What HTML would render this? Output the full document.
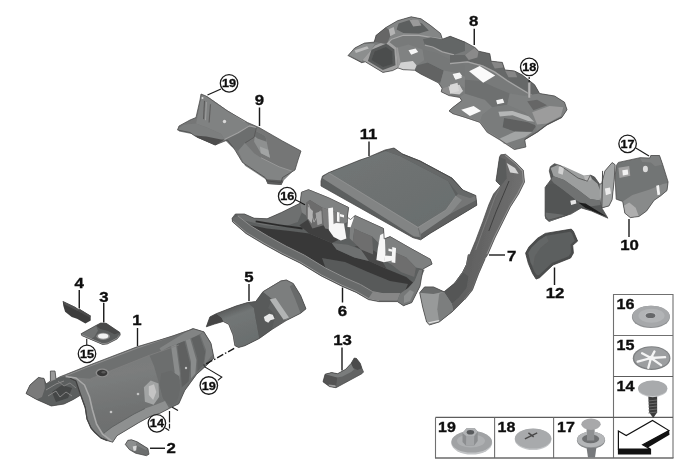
<!DOCTYPE html>
<html><head><meta charset="utf-8"><title>Heat insulation</title>
<style>
html,body{margin:0;padding:0;background:#fff;}
svg{display:block}
.lb{font-family:"Liberation Sans",sans-serif;font-weight:bold;fill:#111;stroke:#111;stroke-width:1.4px}
</style></head><body>
<svg width="680" height="462" viewBox="0 0 680 462">
<defs>
<filter id="soft" x="-5%" y="-5%" width="110%" height="110%"><feGaussianBlur stdDeviation="0.6"/></filter>
<filter id="soft2" x="-5%" y="-5%" width="110%" height="110%"><feGaussianBlur stdDeviation="0.4"/></filter>
<filter id="soft3" x="-5%" y="-5%" width="110%" height="110%"><feGaussianBlur stdDeviation="0.3"/></filter>
<linearGradient id="g1" x1="0" y1="0" x2="0.3" y2="1"><stop offset="0" stop-color="#737575"/><stop offset="0.5" stop-color="#7b7d7d"/><stop offset="0.8" stop-color="#707272"/><stop offset="1" stop-color="#6c6e6e"/></linearGradient>
<linearGradient id="g1b" x1="0" y1="0" x2="1" y2="0.4"><stop offset="0" stop-color="#727272"/><stop offset="0.25" stop-color="#626262"/><stop offset="0.45" stop-color="#808080"/><stop offset="0.6" stop-color="#606060"/><stop offset="0.8" stop-color="#7a7a7a"/><stop offset="1" stop-color="#6a6a6a"/></linearGradient>
<linearGradient id="g5a" x1="0" y1="0" x2="0.35" y2="1"><stop offset="0" stop-color="#525454"/><stop offset="0.22" stop-color="#5c5e5e"/><stop offset="0.4" stop-color="#727676"/><stop offset="1" stop-color="#6a6e6e"/></linearGradient>
<linearGradient id="g7" x1="0" y1="0" x2="1" y2="0.3"><stop offset="0" stop-color="#4e4e4e"/><stop offset="0.6" stop-color="#606060"/><stop offset="1" stop-color="#727272"/></linearGradient>
<linearGradient id="g8" x1="0" y1="0" x2="1" y2="1"><stop offset="0" stop-color="#727272"/><stop offset="0.5" stop-color="#686868"/><stop offset="1" stop-color="#767676"/></linearGradient>
<linearGradient id="g9" x1="0" y1="0" x2="1" y2="1"><stop offset="0" stop-color="#808080"/><stop offset="1" stop-color="#6c6c6c"/></linearGradient>
<linearGradient id="g11" x1="0" y1="0" x2="1" y2="1"><stop offset="0" stop-color="#727676"/><stop offset="1" stop-color="#696d6d"/></linearGradient>
<linearGradient id="gw" x1="0" y1="0" x2="0" y2="1"><stop offset="0" stop-color="#b4b6b8"/><stop offset="1" stop-color="#96989a"/></linearGradient>
</defs>
<rect width="680" height="462" fill="#fff"/>

<g filter="url(#soft)">
<polygon points="347.9,55.8 354.7,48.0 364.5,43.1 374.2,42.1 376.2,35.3 385.9,27.5 397.6,20.7 411.2,16.8 421.0,18.8 430.7,25.6 440.5,33.4 442.4,39.2 450.2,36.3 465.0,42.1 474.9,47.5 478.6,51.2 489.8,53.7 491.1,61.2 502.3,62.4 504.8,69.9 514.7,71.1 522.2,74.9 534.6,84.8 539.6,93.5 554.6,96.0 564.5,102.2 567.0,109.7 562.0,117.2 547.1,124.6 537.1,132.1 524.7,139.6 525.9,147.0 514.7,149.5 507.3,144.6 499.8,139.6 487.3,132.1 479.9,122.2 464.9,117.2 452.5,113.4 449.0,110.9 452.6,107.6 461.8,100.6 459.7,97.4 449.1,95.6 441.2,91.8 442.1,88.2 438.5,82.9 420.9,74.1 414.7,70.2 403.2,69.7 397.9,67.9 392.6,70.6 382.9,72.4 365.3,61.8 361.8,62.7 348.5,55.8" fill="#787a7a" />
<polygon points="348.5,54.7 355.6,48.5 361.8,44.1 375.0,43.8 371.5,49.4 362.6,60.0 361.8,62.6" fill="#8c8e8e" />
<polygon points="354.7,50.3 367.1,46.2 368.8,48.4 355.9,52.9" fill="#bcbcbc" />
<polygon points="348.5,55.1 361.8,61.8 362.6,60.4 361.8,62.8" fill="#6a6a6a" />
<polygon points="362.6,60.0 371.5,49.4 375.0,45.5 387.4,40.6 396.2,47.6 397.9,67.9 392.6,70.6 382.9,72.4 365.3,61.8" fill="#a2a2a2" />
<polygon points="367.9,60.9 371.5,49.8 386.5,43.4 394.4,49.4 395.5,65.3 382.9,69.9" fill="#585a5a" />
<polygon points="371.5,60.0 374.6,51.5 385.9,46.9 392.3,51.5 392.6,63.9 383.1,67.1" fill="#4c4e4e" />
<polygon points="376.2,35.3 385.9,27.5 397.6,20.7 411.2,16.8 421.0,18.8 430.7,25.6 440.5,33.4 442.4,39.2 430.7,37.3 419.0,35.3 403.4,35.3 391.8,39.2 386.9,44.1 374.2,42.1" fill="#848686" />
<polygon points="398.6,23.6 411.2,19.4 422.0,23.6 428.8,30.5 419.0,33.4 403.4,33.0 396.6,29.5" fill="#5c5e5e" />
<polygon points="388.2,29.5 393.7,27.1 395.3,33.4 390.2,36.3" fill="#b4b4b4" />
<polygon points="409.3,19.7 418.1,19.7 421.4,25.6 413.2,26.6" fill="#9a9a9a" />
<polygon points="376.2,35.3 385.9,27.5 388.8,29.5 390.2,36.3 386.9,44.1 374.2,42.1" fill="#666" />
<polyline points="386.9,44.1 391.8,39.2 403.4,35.3 419.0,35.3 430.7,37.3 442.4,39.2" fill="none" stroke="#a8a8a8" stroke-width="1.2" stroke-linejoin="round" />
<polygon points="397.9,47.6 408.5,44.5 422.6,49.4 424.4,60.0 416.5,65.3 412.9,60.9 400.6,62.6" fill="#808282" />
<polygon points="400.6,62.6 412.9,60.9 416.5,65.3 414.7,70.2 403.2,69.7 397.9,67.9" fill="#d2d2d2" />
<polygon points="396.2,47.6 397.9,47.6 400.6,62.6 397.9,67.9" fill="#9a9a9a" />
<polygon points="417.3,65.3 427.9,62.6 443.8,70.6 440.3,82.9 420.9,74.1 414.7,70.2" fill="#626464" />
<polygon points="422.9,39.2 430.7,37.3 442.4,39.2 450.2,36.3 465.0,42.1 465.0,50.9 454.1,54.8 442.4,51.9 432.7,47.0 424.9,45.1" fill="#646666" />
<polyline points="424.9,45.1 432.7,47.0 442.4,51.9 454.1,54.8" fill="none" stroke="#a2a2a2" stroke-width="1.2" stroke-linejoin="round" />
<polygon points="422.6,49.4 436.8,52.9 450.9,60.0 465.0,65.3 465.0,75.9 454.4,72.4 443.8,70.6 427.9,62.6 424.4,60.0" fill="#767878" />
<polygon points="443.8,70.6 454.4,72.4 465.0,76.8 465.0,88.2 459.7,84.7 448.2,86.5 442.1,88.2 438.5,82.9 440.3,82.9" fill="#808282" />
<polygon points="448.2,86.5 459.7,84.7 463.2,90.9 459.7,94.4 450.0,93.5" fill="#cecece" />
<polygon points="442.1,88.2 448.2,86.5 450.0,93.5 449.1,95.6 441.2,91.8" fill="#8e8e8e" />
<polygon points="459.7,84.7 465.0,88.2 465.0,104.1 461.8,100.6 459.7,97.4 459.7,94.4 463.2,90.9" fill="#7a7c7c" />
<polygon points="450.0,54.9 464.9,54.9 474.9,47.5 478.6,51.2 489.8,53.7 491.1,61.2 502.3,62.4 504.8,69.9 514.7,71.1 522.2,74.9 534.6,84.8 539.6,93.5 532.2,94.8 519.7,87.3 507.3,79.8 494.8,71.1 482.4,64.9 467.4,61.2 450.0,62.4" fill="#666868" />
<polyline points="450.0,63.6 467.4,61.9 482.4,65.9 494.8,72.1 507.3,80.8 519.7,88.3 532.2,95.8 549.6,99.7" fill="none" stroke="#a6a6a6" stroke-width="1.3" stroke-linejoin="round" />
<polygon points="464.9,54.9 474.9,47.5 478.6,51.2 477.4,57.4 468.7,59.9" fill="#8a8a8a" />
<polygon points="491.1,61.2 502.3,62.4 503.5,67.4 494.8,68.6" fill="#868686" />
<polygon points="504.8,69.9 514.7,71.1 517.2,77.3 508.5,77.3" fill="#868686" />
<polygon points="450.0,84.8 457.5,82.8 459.0,91.0 450.0,93.5" fill="#d8d8d8" />
<polygon points="464.9,93.5 484.9,99.7 492.3,107.2 482.4,114.7 479.9,122.2 464.9,117.2 452.5,113.4 449.0,110.9 452.6,107.6 461.8,100.6 459.7,97.4" fill="#808282" />
<polygon points="464.9,79.8 481.1,81.1 494.8,87.3 509.7,93.5 507.3,104.7 492.3,107.2 484.9,99.7 464.9,93.5" fill="#6e7070" />
<polygon points="492.3,107.2 507.3,104.7 524.7,112.2 534.6,122.2 524.7,139.6 514.7,149.5 507.3,144.6 499.8,139.6 487.3,132.1 479.9,122.2 482.4,114.7" fill="#7a7c7c" />
<polygon points="504.1,118 528,122.3 536.4,125.8 532.2,131.4 518.1,132.8 502.7,127.2" fill="#5e6060" />
<polygon points="498.4,111.7 512.5,111 529.4,116.6 540.6,118 539.2,122.3 528,120.9 512.5,115.2 499.8,116.6" fill="#b4b6b6" />
<polygon points="499.8,138.4 515.3,131.4 532.2,132.1 525.2,137 512.5,141.3 504.1,144.1" fill="#a2a4a4" />
<polygon points="509.7,93.5 524.7,96.0 539.6,93.5 554.6,96.0 564.5,102.2 567.0,109.7 562.0,117.2 547.1,124.6 537.1,132.1 534.6,122.2 524.7,112.2 507.3,104.7" fill="#7e8080" />
<polygon points="532.2,112.2 549.6,106.0 563.3,107.2 560.8,115.9 547.1,123.4 537.1,124.6" fill="#9c9c9c" />
<polygon points="527.2,101.2 537.1,99.7 547.1,105.2 533.4,110.2" fill="#666666" />
<polyline points="452.5,113.4 464.9,117.2 479.9,122.2 487.3,132.1 499.8,139.6 507.3,144.6 514.7,149.5" fill="none" stroke="#a0a0a0" stroke-width="1.3" stroke-linejoin="round" />
<polyline points="524.7,139.6 537.1,132.1 547.1,124.6 562.0,117.2" fill="none" stroke="#666666" stroke-width="1.2" stroke-linejoin="round" />
<polygon points="408.5,50.3 415.6,48.5 418.2,52.1 411.2,54.7" fill="#f6f6f6" />
<polygon points="452.6,74.1 459.7,72.4 462.3,76.2 455.3,79.1" fill="#f6f6f6" />
<polygon points="469.1,71.2 479.7,65.9 495.2,75.6 483.2,82.7" fill="#fafafa" />
<polygon points="453.7,76.1 460.0,74.4 461.9,77.8 455.5,79.8" fill="#f4f4f4" />
<polygon points="496.1,100.2 502.8,98.8 504.3,102.7 497.3,104.2" fill="#f4f4f4" />
<polygon points="461.2,109.7 473.6,106.0 481.1,110.9 469.9,115.9" fill="#fafafa" />
<polygon points="347.9,55.8 354.7,48.0 364.5,43.1 374.2,42.1 376.2,35.3 385.9,27.5 397.6,20.7 411.2,16.8 421.0,18.8 430.7,25.6 440.5,33.4 442.4,39.2 450.2,36.3 465.0,42.1 474.9,47.5 478.6,51.2 489.8,53.7 491.1,61.2 502.3,62.4 504.8,69.9 514.7,71.1 522.2,74.9 534.6,84.8 539.6,93.5 554.6,96.0 564.5,102.2 567.0,109.7 562.0,117.2 547.1,124.6 537.1,132.1 524.7,139.6 525.9,147.0 514.7,149.5 507.3,144.6 499.8,139.6 487.3,132.1 479.9,122.2 464.9,117.2 452.5,113.4 449.0,110.9 452.6,107.6 461.8,100.6 459.7,97.4 449.1,95.6 441.2,91.8 442.1,88.2 438.5,82.9 420.9,74.1 414.7,70.2 403.2,69.7 397.9,67.9 392.6,70.6 382.9,72.4 365.3,61.8 361.8,62.7 348.5,55.8" fill="none" stroke="#484848" stroke-width="0.75" stroke-linejoin="round"/>
<polygon points="201,94 206,96 227.5,111 247.5,122.5 259,127.5 282.5,141 301,151 298,160 295,170 282.5,177.5 281,182.5 267.5,181 265,177.5 242.5,162.5 235,150 227.5,140 215,145 195,136 190,132.5 177.5,130 179,126 190,120 196,117.5 200,100" fill="#747676" />
<polygon points="201.8,95.2 207.5,96.4 226.8,110.0 245.0,121.4 249.5,125.9 238.2,132.7 224.5,139.5 221.1,133.9 208.6,128.2 196.1,123.6 198.4,112.3" fill="#808282" />
<polyline points="204.5,100.9 203.6,119.1" fill="none" stroke="#5a5a5a" stroke-width="1.1" stroke-linejoin="round" />
<polyline points="210.5,104.3 209.1,122.5" fill="none" stroke="#5e5e5e" stroke-width="1.1" stroke-linejoin="round" />
<polyline points="206.4,102.0 205.5,120.2" fill="none" stroke="#a0a0a0" stroke-width="0.9" stroke-linejoin="round" />
<polygon points="178.0,129.3 183.6,124.8 196.1,123.6 208.6,128.2 221.1,133.9 224.5,139.5 215.5,145.2 197.3,137.3 191.6,133.9 179.1,131.6" fill="#7c7e7e" />
<polygon points="195.0,135.5 206.4,136.4 221.1,139.5 224.5,139.5 215.5,145.2 197.3,137.7" fill="#4e4e4e" />
<polygon points="224.5,139.5 238.2,132.7 249.5,125.9 256.4,127.0 254.1,137.3 245.0,143.0 238.2,150.9 231.4,146.4" fill="#6c6e6e" />
<polygon points="255.2,130.5 265.5,136.1 270.0,157.7 260.9,153.2 254.1,141.8" fill="#8e9090" />
<polygon points="255.2,130.5 265.5,136.1 266.6,141.8 257.5,138.4 254.5,136.1" fill="#6c6e6e" />
<polygon points="259.8,146.4 268.2,149.8 270.0,157.7 260.9,153.2" fill="#a2a4a4" />
<polygon points="238.2,150.9 245.0,143.0 254.1,153.2 260.9,157.7 279.1,166.8 292.7,171.4 283.6,180.5 281.4,185.0 267.7,183.9 265.5,179.3 245.0,165.7" fill="#828484" />
<polygon points="265.5,179.3 283.6,180.5 281.4,185.0 267.7,183.9" fill="#5c5c5c" />
<polyline points="224.5,139.5 238.2,132.7 249.5,125.9 256.4,127.5" fill="none" stroke="#a2a2a2" stroke-width="1.1" stroke-linejoin="round" />
<polyline points="207.5,96.8 226.8,110.5 245.0,121.8" fill="none" stroke="#9c9c9c" stroke-width="0.9" stroke-linejoin="round" />
<polyline points="260.9,157.7 279.1,166.8 292.7,171.4" fill="none" stroke="#9a9a9a" stroke-width="0.9" stroke-linejoin="round" />
<polyline points="245.0,143.0 254.1,137.3 256.4,127.5" fill="none" stroke="#5a5a5a" stroke-width="1" stroke-linejoin="round" />
<circle cx="224.5" cy="121.5" r="1.7" fill="#d8d8d8"/><circle cx="202.5" cy="98" r="1" fill="#e0e0e0"/>
<polygon points="201,94 206,96 227.5,111 247.5,122.5 259,127.5 282.5,141 301,151 298,160 295,170 282.5,177.5 281,182.5 267.5,181 265,177.5 242.5,162.5 235,150 227.5,140 215,145 195,136 190,132.5 177.5,130 179,126 190,120 196,117.5 200,100" fill="none" stroke="#484848" stroke-width="0.75" stroke-linejoin="round"/>
<polygon points="321,181 322.5,176 329,172.5 360,160 367.5,157.5 385,150 394,148 402.5,154 420,161 451.9,178.1 462.8,190 475.8,195.5 476.8,205.2 430.3,233.3 420.6,239.8 413,237.7 321,186" fill="#5c5e5e" />
<polygon points="323,177 329,172.5 367.5,157.5 386,151 400,156 448,181 456,196 446,210 418,227" fill="url(#g11)" />
<polygon points="386,151 394,148 402.5,154 420,161 451.9,178.1 462.8,190 475.8,195.5 470,198 458,194 448,181 400,156" fill="#666868" />
<polygon points="456,196 458,194 470,198 475.8,195.5 476.8,205.2 430.3,233.3 420.6,239.8 419,231 428,222 446,210" fill="#747676" />
<polygon points="322,178 329,172.5 418,227 420,237 414,236.5" fill="#828484" />
<polygon points="418,227 446,210 456,196 462,200 450,214 421,234" fill="#868888" />
<polygon points="421,234 450,214 476.5,200 476.8,205.2 430.3,233.3 420.6,239.8" fill="#5e6060" />
<polyline points="329,173 418,227.5 446,210 456,196" fill="none" stroke="#909292" stroke-width="0.8" stroke-linejoin="round" />
<polyline points="402,154 420,161 451.9,178.1 462.8,190" fill="none" stroke="#4e5050" stroke-width="0.9" stroke-linejoin="round" />
<polygon points="321,181 322.5,176 329,172.5 360,160 367.5,157.5 385,150 394,148 402.5,154 420,161 451.9,178.1 462.8,190 475.8,195.5 476.8,205.2 430.3,233.3 420.6,239.8 413,237.7 321,186" fill="none" stroke="#484848" stroke-width="0.75" stroke-linejoin="round"/>
<polygon points="232.1,218.2 235.4,214.0 244.4,214.0 254.1,218.2 267.1,218.8 281.6,212.4 294.6,205.9 300.1,203.3 301.4,192.3 308.5,189.7 328.5,197.8 348.6,207.5 347.3,217.2 350.5,219.5 355.1,215.6 383.5,228.5 384.2,238.9 390.0,236.6 411.0,248.6 430.4,259.3 432.1,264.1 423.0,269.0 420,286.2 415.9,294.4 411.8,302.6 403.5,305.7 397.4,301.6 378.8,301.6 368.5,299.6 356.2,292.4 341.8,286.2 321.2,275.9 300,263 282,254.2 264,244.3 246,233.5 232.5,221.8" fill="#5c5e5e" />
<polygon points="235.4,214.0 244.4,214.0 254.1,218.2 267.1,218.8 281.6,212.4 294.6,205.9 300.1,203.3 302.6,210.7 297.8,222.1 283.2,226.9 263.8,225.3 244.4,220.4" fill="#6e7070" />
<polyline points="255.7,221.4 280.0,225.3 302.6,228.5" fill="none" stroke="#2c2c2c" stroke-width="1.8" stroke-linejoin="round" />
<polygon points="250.9,225.3 267,228.5 289.7,231.1 309.1,233.4 331.8,243.1 336.6,249.6 354.4,257.6 369,260.9 386.8,269 406.2,277 415.9,285.1 408,290 383,293.7 372.8,291.7 360.5,284.5 346.1,278.3 325.5,268 304.3,255.1 286.3,246.3 268.3,236.4 250.3,225.6" fill="#383838" />
<polygon points="331.8,243.1 347.9,244.7 360.9,249.6 369.0,260.9 354.4,257.6 336.6,249.6" fill="#6e7070" />
<polygon points="299.4,225.3 309.1,218.8 331.8,228.5 338.2,239.9 331.8,243.1 309.1,233.4" fill="#404040" />
<polygon points="354.4,246.3 364.1,244.7 377.1,252.8 386.8,269.0 369.0,260.9 360.9,249.6" fill="#484848" />
<polygon points="322,258 345,262 368,272 390,281 408,284 404,293 383,293.7 372.8,291.7 360.5,284.5 346.1,278.3 325.5,268" fill="#585a5a" />
<polygon points="238,216 250.3,225.6 268.3,236.4 286.3,246.3 304.3,255.1 325.5,268 346.1,278.3 360.5,284.5 372.8,291.7 383,293.7 400,293.7 411.8,302.6 403.5,305.7 397.4,301.6 378.8,301.6 368.5,299.6 356.2,292.4 341.8,286.2 321.2,275.9 300,263 282,254.2 264,244.3 246,233.5 232.5,221.8 232.1,218.2" fill="#686a6a" />
<polyline points="238,216 250.3,225.6 268.3,236.4 286.3,246.3 304.3,255.1 325.5,268 346.1,278.3 360.5,284.5 372.8,291.7 383,293.7 400,293.7" fill="none" stroke="#8e8e8e" stroke-width="1" stroke-linejoin="round" />
<polyline points="232.8,221 246.3,232.6 264.3,243.4 282.3,253.3 300.3,262.1 321.5,275 342.1,285.3 356.5,291.5 368.8,298.7 379,300.7" fill="none" stroke="#9c9c9c" stroke-width="0.9" stroke-linejoin="round" />
<polygon points="372.8,291.7 383,293.7 400,293.7 397.4,300.6 378.8,300.6 368.5,298.6" fill="#868686" />
<polygon points="400,293.7 408,288 414.5,281 419,270 424.6,269.7 421,278 420,286.2 415.9,294.4 411.8,302.6 403.5,305.7 397.4,301.6" fill="#767878" />
<polygon points="404,296 410,290 414,292 410,301 404,303" fill="#8c8e8e" />
<polygon points="300.1,203.3 301.4,192.3 308.5,189.7 328.5,197.8 348.6,207.5 347.3,222.1 341.5,225.3 336.6,212.4 322.1,207.5 309.8,200.1 306.5,202.6 305.9,215.6 302.0,212.4" fill="#808282" />
<polygon points="306.5,202.6 309.8,200.1 322.1,207.5 323.7,225.3 312.4,228.5 305.9,215.6" fill="#6c6c6c" />
<polyline points="308.5,204.3 314.0,222.1 320.4,210.7" fill="none" stroke="#a8a8a8" stroke-width="0.9" stroke-linejoin="round" />
<polygon points="322.1,207.5 336.6,212.4 341.5,225.3 339.8,231.8 325.3,228.5 323.7,225.3" fill="#7c7c7c" />
<polygon points="350.5,219.5 355.1,215.6 383.5,228.5 384.2,238.9 380.3,244.7 372.2,236.6 360.9,231.8 354.4,228.5 352.8,241.5 349.6,238.2" fill="#7e8080" />
<polygon points="354.4,228.5 360.9,231.8 372.2,236.6 373.2,254.4 360.9,249.6 352.8,241.5" fill="#6e6e6e" />
<polygon points="384.2,238.9 390.0,236.6 411.0,248.6 430.4,259.3 432.1,264.1 423.0,269.0 415.9,267.4 406.2,257.6 393.2,251.8 390.6,264.1 386.1,260.9" fill="#7e8080" />
<polygon points="393.2,251.8 406.2,257.6 415.9,267.4 414.3,277.1 401.3,272.2 390.6,264.1" fill="#6e6e6e" />
<polygon points="307.8,206.5 313.0,211.1 311.7,223.4 307.8,218.2" fill="#b2b2b2" />
<polygon points="315.6,213.0 321.4,211.1 322.1,223.4 317.5,225.3" fill="#a4a4a4" />
<polyline points="301.4,192.3 308.5,189.7 328.5,197.8 348.6,207.5" fill="none" stroke="#a8a8a8" stroke-width="1" stroke-linejoin="round" />
<polyline points="355.1,215.6 383.5,228.5" fill="none" stroke="#a8a8a8" stroke-width="1" stroke-linejoin="round" />
<polyline points="390.0,236.6 411.0,248.6 430.4,259.3" fill="none" stroke="#a8a8a8" stroke-width="1" stroke-linejoin="round" />
<polygon points="328.1,208.2 333,207.5 333.7,228 329,229" fill="#f6f6f6" />
<polygon points="329,226 336,223 344,223.5 346.4,238.4 340.8,240.5 333.7,237 328.8,230" fill="#f6f6f6" />
<polygon points="348.5,213.1 354.1,217.3 350.6,227.2 347.5,227" fill="#ffffff" />
<polygon points="337,212 339.5,212.5 339.5,222 337,221.5" fill="#f6f6f6" />
<polygon points="340,214 344,215 344,217.5 340,216.5" fill="#f6f6f6" />
<polygon points="380.2,235 384.7,232.7 385.5,253.9 383.9,262.3 376.4,260 377.9,247.9" fill="#f6f6f6" />
<polygon points="384.7,255.5 394.5,256.2 394.5,260 383.9,262.3" fill="#f6f6f6" />
<polygon points="392.3,247.1 396,247.9 395.3,263 391.5,262.3" fill="#f6f6f6" />
<polygon points="388.5,248.6 392.3,249.4 392.3,251.7 388.5,250.9" fill="#f6f6f6" />
<polygon points="232.1,218.2 235.4,214.0 244.4,214.0 254.1,218.2 267.1,218.8 281.6,212.4 294.6,205.9 300.1,203.3 301.4,192.3 308.5,189.7 328.5,197.8 348.6,207.5 347.3,217.2 350.5,219.5 355.1,215.6 383.5,228.5 384.2,238.9 390.0,236.6 411.0,248.6 430.4,259.3 432.1,264.1 423.0,269.0 420,286.2 415.9,294.4 411.8,302.6 403.5,305.7 397.4,301.6 378.8,301.6 368.5,299.6 356.2,292.4 341.8,286.2 321.2,275.9 300,263 282,254.2 264,244.3 246,233.5 232.5,221.8" fill="none" stroke="#484848" stroke-width="0.75" stroke-linejoin="round"/>
<polygon points="500.7,154.8 505.5,154.3 516.2,163.1 523.3,170.2 524.5,182.1 518.6,194.0 510.2,207.1 503.1,221.4 494.8,238.1 487.6,254.8 485.0,258.6 478.2,274.2 472.3,289.8 464.5,299.5 452.9,311.2 439.2,322.0 429.5,324.9 426.6,322.0 422.7,307.3 419.7,292.7 424.6,286.9 433.4,286.9 444.1,291.8 454.8,283.0 462.6,272.3 466.5,264.5 468.4,254.7 469.8,254.8 475.7,240.5 482.9,221.4 488.8,204.8 493.6,194.0 500.7,185.7 496.0,181.0 499.5,157.1" fill="url(#g7)" />
<polygon points="419.7,292.7 424.6,286.9 433.4,286.9 444.1,291.8 451.9,303.4 452.9,311.2 439.2,322.0 429.5,324.9 426.6,322.0 422.7,307.3" fill="#989a9a" />
<polygon points="439.2,293.7 444.1,291.8 451.9,303.4 452.9,311.2 439.2,322.0 437.3,309.3" fill="#7c7e7e" />
<polygon points="419.7,292.7 424.6,286.9 433.4,286.9 444.1,291.8 433.4,294.1" fill="#6a6c6c" />
<polyline points="428.5,322.9 439.2,320.6" fill="none" stroke="#e0e0e0" stroke-width="1.2" stroke-linejoin="round" />
<polygon points="444.1,291.8 454.8,283.0 462.6,272.3 468.4,276.2 466.5,287.9 458.7,297.6 451.9,303.4" fill="#545656" />
<polyline points="468.4,254.7 466.5,264.5 462.6,272.3 454.8,283.0" fill="none" stroke="#8e8e8e" stroke-width="1" stroke-linejoin="round" />
<polyline points="485.0,258.6 478.2,274.2 472.3,289.8 464.5,299.5" fill="none" stroke="#8a8a8a" stroke-width="1.2" stroke-linejoin="round" />
<polyline points="505.5,155.2 516.2,163.8 522.6,171.0 523.6,182.1 517.9,193.6 509.8,206.7 502.6,221.0 494.3,237.6 487.1,254.3" fill="none" stroke="#929292" stroke-width="1.4" stroke-linejoin="round" />
<polyline points="500.7,185.7 494.8,197.6 488.8,214.3 481.7,233.3 475.7,250.0" fill="none" stroke="#7a7a7a" stroke-width="1" stroke-linejoin="round" />
<polyline points="509.0,181.0 503.1,195.2 496.0,211.9 488.8,231.0" fill="none" stroke="#404040" stroke-width="1" stroke-linejoin="round" />
<polygon points="506.7,163.1 515.0,167.9 518.6,173.8 510.2,172.6" fill="#d4d4d4" />
<polygon points="499.5,157.1 505.5,159.5 506.7,178.6 500.7,185.7 496.0,181.0" fill="#5a5c5c" />
<polygon points="500.7,154.8 505.5,154.3 516.2,163.1 523.3,170.2 524.5,182.1 518.6,194.0 510.2,207.1 503.1,221.4 494.8,238.1 487.6,254.8 485.0,258.6 478.2,274.2 472.3,289.8 464.5,299.5 452.9,311.2 439.2,322.0 429.5,324.9 426.6,322.0 422.7,307.3 419.7,292.7 424.6,286.9 433.4,286.9 444.1,291.8 454.8,283.0 462.6,272.3 466.5,264.5 468.4,254.7 469.8,254.8 475.7,240.5 482.9,221.4 488.8,204.8 493.6,194.0 500.7,185.7 496.0,181.0 499.5,157.1" fill="none" stroke="#484848" stroke-width="0.75" stroke-linejoin="round"/>
<polygon points="550.3,166.8 554.4,163.7 560.6,165.7 578.1,178.1 587.4,181.2 590.4,175.0 594.6,177.1 599.7,184.3 601.8,183.2 604.9,170.9 612.1,162.6 615.1,164.7 614.1,181.2 612.1,199.7 609.0,205.9 601.8,207.9 607.9,218.2 591.5,211.0 581.2,207.9 570.9,214.1 548.2,220.3 545.1,216.2 545.1,187.4 551.3,179.1 549.3,170.9" fill="#565858" />
<polygon points="550.6,167.9 558.2,164.8 564.2,166.4 583.9,175.5 590.0,174.7 592.3,179.2 597.6,183.8 600.6,191.4 599.8,200.5 590.0,198.9 577.9,189.8 564.2,180.0 553.6,176.2" fill="#9c9e9e" />
<polygon points="553.6,176.2 564.2,180.0 577.9,189.8 590.0,198.9 599.8,200.5 600.6,205.0 590.0,206.5 576.4,200.5 562.7,189.8 554.4,183.8 550.6,179.2" fill="#707272" />
<polygon points="558.9,166.4 564.2,167.1 562.7,174.7 558.2,173.2" fill="#d2d2d2" />
<polygon points="583.9,176.2 590.0,175.5 591.5,180.0 585.5,181.5" fill="#b8b8b8" />
<polygon points="546.1,185.3 554.4,183.8 562.7,189.8 576.4,200.5 577.9,206.5 567.3,215.6 549.1,221.7 545.3,218.6" fill="#525454" />
<polygon points="545.3,212.6 558.2,214.1 567.3,215.6 549.1,221.7 545.3,218.6" fill="#6a6c6c" />
<polygon points="570.3,200.8 575.6,199.7 576.4,203.5 571.1,205.0" fill="#e6e6e6" />
<polygon points="578.6,202.7 585.5,203.5 607.4,217.1 597.6,213.3 585.5,208.0" fill="#1c1c1c" />
<polygon points="601.8,183.2 604.9,170.9 612.1,162.6 615.1,164.7 614.1,181.2 612.1,199.7 609.0,205.9 601.8,207.9 599.7,195.6 599.7,184.3" fill="#a4a6a6" />
<polygon points="604.9,188.4 610.0,187.4 611.0,193.5 605.9,195.2" fill="#ececec" />
<polyline points="602.6,170.9 601.8,207.9" fill="none" stroke="#3a3a3a" stroke-width="0.9" stroke-linejoin="round" />
<polygon points="618.4,162.4 640.0,157.7 649.7,158.1 650.8,155.5 659.5,155.5 662.7,164.6 668.1,181.9 667.0,190.5 660.5,195.9 654.1,200.3 646.5,211.1 638.9,216.5 630.3,217.6 624.9,213.2 622.7,201.4 616.2,199.2 615.1,177.6 616.2,165.7" fill="#727474" />
<polygon points="622.7,201.4 632.4,194.9 649.7,189.5 662.7,184.1 667.9,183.0 667.0,190.5 660.5,195.9 654.1,200.3 646.5,211.1 638.9,216.5 630.3,217.6 624.9,213.2" fill="#888a8a" />
<polygon points="624.9,213.2 623.8,205.7 629.2,202.4 635.7,207.8 638.9,216.5 630.3,217.6" fill="#aeaeae" />
<polygon points="618.4,167.8 629.2,166.1 630.3,175.8 619.5,178.0" fill="#a2a2a2" />
<polygon points="622.3,170.2 627.7,169.4 628.3,174.5 622.9,175.6" fill="#f2f2f2" />
<ellipse cx="645.4" cy="169" rx="2.5" ry="3.3" fill="#dcdcdc"/>
<polygon points="656.2,185.8 659.0,185.1 660.1,194.4 657.5,195.3" fill="#f4f4f4" />
<polygon points="640.0,157.7 649.7,158.1 650.8,155.5 659.5,155.5 662.7,164.6 655.1,166.3 650.8,162.4 642.2,162.0" fill="#7e8080" />
<polygon points="550.3,166.8 554.4,163.7 560.6,165.7 578.1,178.1 587.4,181.2 590.4,175.0 594.6,177.1 599.7,184.3 601.8,183.2 604.9,170.9 612.1,162.6 615.1,164.7 614.1,181.2 612.1,199.7 609.0,205.9 601.8,207.9 607.9,218.2 591.5,211.0 581.2,207.9 570.9,214.1 548.2,220.3 545.1,216.2 545.1,187.4 551.3,179.1 549.3,170.9" fill="none" stroke="#484848" stroke-width="0.75" stroke-linejoin="round"/>
<polygon points="618.4,162.4 640.0,157.7 649.7,158.1 650.8,155.5 659.5,155.5 662.7,164.6 668.1,181.9 667.0,190.5 660.5,195.9 654.1,200.3 646.5,211.1 638.9,216.5 630.3,217.6 624.9,213.2 622.7,201.4 616.2,199.2 615.1,177.6 616.2,165.7" fill="none" stroke="#484848" stroke-width="0.75" stroke-linejoin="round"/>
<polygon points="525.6,253.1 529.1,246.7 537.5,238.3 545.3,233.4 571.3,229.1 573.4,231.3 577.6,241.1 572.7,245.3 573.4,253.1 570.6,258.0 553.0,265.0 539.6,277.7 536.1,279.1 532.6,273.5 528.4,263.6" fill="#4c4e4e" />
<polygon points="528.4,253.1 531.6,247.4 538.9,240.4 546.2,235.8 570.2,231.8 572.0,233.4 574.8,240.8 570.6,244.6 571.0,252.6 568.7,256.3 551.9,262.9 539.2,274.9 537.0,275.2 534.4,271.8 530.8,262.9" fill="#5c5e5e" />
<polygon points="528.4,253.1 531.6,247.4 538.9,240.4 546.2,235.8 548.8,241.1 540.3,248.1 534.7,256.6 533.3,266.4 530.8,262.9" fill="#646666" />
<polygon points="525.6,253.1 529.1,246.7 537.5,238.3 545.3,233.4 571.3,229.1 573.4,231.3 577.6,241.1 572.7,245.3 573.4,253.1 570.6,258.0 553.0,265.0 539.6,277.7 536.1,279.1 532.6,273.5 528.4,263.6" fill="none" stroke="#333" stroke-width="0.75" stroke-linejoin="round"/>
<polygon points="206.3,326.8 209.9,316.9 216.2,313.7 235.9,306.1 247.6,302.5 255.7,301.6 262.9,291.8 280.9,281.0 286.3,280.1 293.4,283.7 300.6,295.4 306.0,308.8 300.6,313.3 286.3,320.5 271.9,329.5 259.3,338.5 244.9,345.7 238.6,347.5 235.0,345.7 233.2,334.9 228.8,324.1 223.4,321.4 214.4,324.1" fill="#606262" />
<polygon points="206.3,326.8 209.9,316.9 216.2,313.7 221.6,317.8 223.4,321.4 214.4,324.1" fill="#444" />
<polygon points="216.2,313.7 235.9,306.1 247.6,302.5 253.9,307.9 255.7,318.7 259.3,338.5 244.9,345.7 238.6,347.5 235.0,345.7 233.2,334.9 228.8,324.1 223.4,321.4 221.6,317.8" fill="url(#g5a)" />
<polygon points="247.6,302.5 255.7,301.6 262.9,291.8 271.9,299.0 268.3,307.9 275.5,315.1 271.9,329.5 259.3,338.5 255.7,318.7 253.9,307.9" fill="#585a5a" />
<polygon points="262.9,291.8 280.9,281.0 286.3,280.1 293.4,283.7 300.6,295.4 306.0,308.8 300.6,313.3 286.3,320.5 280.9,315.1 275.5,300.8 271.9,299.0" fill="#7c7e7e" />
<polygon points="293.4,283.7 300.6,295.4 306.0,308.8 300.6,313.3 295.2,299.0 289.8,286.4" fill="#686a6a" />
<polygon points="263.8,316.9 269.2,313.7 272.8,314.8 274.6,319.1 270.4,320.2 268.3,322.7 265.0,320.9" fill="#e8e8e8" />
<polygon points="269.7,299.4 275.6,297.9 289,317.5 283.6,319.8" fill="#b2b4b4" />
<polyline points="223.4,321.4 228.8,324.1 233.2,334.9 235.0,345.7" fill="none" stroke="#969696" stroke-width="1.2" stroke-linejoin="round" />
<polyline points="262.9,291.8 280.9,281.0 286.3,280.1 293.4,283.7" fill="none" stroke="#8c8c8c" stroke-width="1" stroke-linejoin="round" />
<polygon points="206.3,326.8 209.9,316.9 216.2,313.7 235.9,306.1 247.6,302.5 255.7,301.6 262.9,291.8 280.9,281.0 286.3,280.1 293.4,283.7 300.6,295.4 306.0,308.8 300.6,313.3 286.3,320.5 271.9,329.5 259.3,338.5 244.9,345.7 238.6,347.5 235.0,345.7 233.2,334.9 228.8,324.1 223.4,321.4 214.4,324.1" fill="none" stroke="#484848" stroke-width="0.75" stroke-linejoin="round"/>
<polygon points="26,393.5 30,385 38.4,377.5 44,378.4 46,384 50.4,381 50.4,371 55,371 56,379 59.5,377 65.6,374.6 87.6,365.8 137.6,346.6 173,336 193.5,328.8 203.8,331.8 211,343.5 214,358 208,364 196.5,374.4 184.7,390.6 178.8,403.8 172,407 169.2,408.5 159.5,413.5 150,416.5 138.7,422.7 127.9,429.2 117,435.7 112.7,442.2 107.3,440.6 100.8,437.9 94.9,432.5 91,428 87,418.9 85.3,407.8 80.7,395 73.3,399.5 64,404 51.3,406 36.6,399.5" fill="url(#g1)" />
<polygon points="65.6,375.9 87.6,367 137.6,348 173,336 193.5,328.8 203.8,331.8 178.8,345 149.4,355.3 90.6,378.8 75.9,377.4" fill="#6e7070" />
<polygon points="149.4,355.3 178.8,345 203.8,331.8 211,343.5 214,358 208,364 196.5,374.4 184.7,390.6 178.8,403.8 170,408 163,398 158,380 154,366" fill="#6c6e6e" />
<polygon points="159.5,348.3 192.5,327.9 204.2,331.8 194.5,336.7 178.9,343.5 169.2,346.8 161.4,351.3" fill="#828484" />
<polygon points="171.1,346.4 176.0,344.5 179.9,373.6 177.9,389.2 173.1,390.2 174.6,371.7" fill="#8a8c8c" />
<polygon points="177.0,344.1 184.4,341.0 190.2,363.9 188.6,381.4 181.8,387.3 180.9,371.7" fill="#5e6060" />
<polygon points="185.7,340.2 190.2,338.6 196.4,360.0 195.4,373.6 191.0,378.5 191.0,362.0" fill="#8a8c8c" />
<polygon points="191.6,338.2 199.3,335.1 205.2,352.2 203.2,364.9 197.4,371.7 197.4,358.1" fill="#606262" />
<polygon points="200.3,334.7 204.2,331.8 211.0,342.5 213.0,354.2 204.2,364.9 206.1,350.3" fill="#7c7e7e" />
<polygon points="161.4,373.6 171.1,370.7 178.9,376.0 179.9,389.2 177.0,401.8 171.1,405.7 163.3,398.9 159.5,385.3" fill="#686a6a" />
<polygon points="143.9,387.3 150.7,380.4 158.5,383.4 159.1,397.0 153.6,404.8 144.9,401.8" fill="#a2a4a4" />
<polygon points="148.8,386.3 154.0,384.3 156.3,392.1 153.2,399.9 148.8,395.0" fill="#c4c4c4" />
<polygon points="112.7,442.2 117,435.7 127.9,429.2 138.7,422.7 150,416.5 159.5,413.5 169.2,408.5 165,401 155,405 145,408.5 134,414 123,420.5 112,427 104,433 107.3,440.6" fill="#8e9090" />
<polyline points="104,433 112,427 123,420.5 134,414 145,408.5" fill="none" stroke="#5e6060" stroke-width="0.9" stroke-linejoin="round" />
<polygon points="44,378.4 46,384 59.5,377.5 65.6,375.9 76,379 80.7,395 73.3,399.5 64,404 51.3,406 36.6,399.5 26,393.5 30,385 38.4,377.5" fill="#5c5e5e" />
<polygon points="26,393.5 30,385 38.4,377.5 44,378.4 45,388 42,397 36.6,399.5" fill="#7a7a7a" />
<polygon points="52,392 62,385 72,388 68,398 56,402" fill="#444646" />
<polyline points="48,396 56,391 60,397 66,392 72,396" fill="none" stroke="#8c8c8c" stroke-width="0.9" stroke-linejoin="round" />
<polyline points="58,381 64,386 70,383 76,388" fill="none" stroke="#868686" stroke-width="0.9" stroke-linejoin="round" />
<polyline points="46,390 56,384 64,381" fill="none" stroke="#8a8a8a" stroke-width="1" stroke-linejoin="round" />
<polygon points="50.4,381 50.4,371 55,371 56,379" fill="#999" />
<polygon points="65.6,375.9 76,377 84,384 89,396 92,410 96,424 102,434 112.7,442.2 107.3,440.6 100.8,437.9 94.9,432.5 91,428 87,418.9 85.3,407.8 80.7,395 76,381" fill="#7a7c7c" />
<polyline points="70,378 76,381 80.7,395 85.3,407.8 87,418.9 91,428 94.9,432.5 100.8,437.9 107.3,440.6" fill="none" stroke="#3e3e3e" stroke-width="1.2" stroke-linejoin="round" />
<polyline points="65.6,376.5 76,378 84.5,385 89.5,397 92.5,410 96.5,424 102.5,434 112,441.5" fill="none" stroke="#a8a8a8" stroke-width="1.6" stroke-linejoin="round" />
<polyline points="65.6,375.9 87.6,367 137.6,348 193.5,328.8" fill="none" stroke="#8e8e8e" stroke-width="1" stroke-linejoin="round" />
<polyline points="90.6,378.8 149.4,355.3 178.8,345" fill="none" stroke="#808080" stroke-width="0.8" stroke-linejoin="round" />
<ellipse cx="102.2" cy="372.8" rx="6.6" ry="4.4" fill="#8e8e8e"/><ellipse cx="102.2" cy="373" rx="5.2" ry="3.3" fill="#383838"/><ellipse cx="103.5" cy="372.2" rx="2" ry="1.2" fill="#5a5a5a"/>
<circle cx="138" cy="394" r="1.3" fill="#c4c4c4"/><circle cx="111" cy="412" r="1.3" fill="#c4c4c4"/><circle cx="186" cy="368" r="1.2" fill="#c4c4c4"/>
<polygon points="26,393.5 30,385 38.4,377.5 44,378.4 46,384 50.4,381 50.4,371 55,371 56,379 59.5,377 65.6,374.6 87.6,365.8 137.6,346.6 173,336 193.5,328.8 203.8,331.8 211,343.5 214,358 208,364 196.5,374.4 184.7,390.6 178.8,403.8 172,407 169.2,408.5 159.5,413.5 150,416.5 138.7,422.7 127.9,429.2 117,435.7 112.7,442.2 107.3,440.6 100.8,437.9 94.9,432.5 91,428 87,418.9 85.3,407.8 80.7,395 73.3,399.5 64,404 51.3,406 36.6,399.5" fill="none" stroke="#484848" stroke-width="0.75" stroke-linejoin="round"/>
<polygon points="125.3,444.4 127.9,440.3 131.5,439.8 137.1,441.8 147.9,448.5 149.0,454.2 146.4,455.7 135.6,453.2 129.4,449.6" fill="#6c6e6e" />
<polygon points="125.3,444.4 127.9,440.3 131.5,439.8 137.1,441.8 134.0,450.6 129.4,449.6" fill="#8c8e8e" />
<polygon points="132.7,446.5 136.8,445.4 136.1,450.6 133.7,451.1" fill="#d8d8d8" />
<polygon points="137.1,441.8 147.9,448.5 145.9,450.1 136.6,445.4" fill="#7c7e7e" />
<polygon points="125.3,444.4 127.9,440.3 131.5,439.8 137.1,441.8 147.9,448.5 149.0,454.2 146.4,455.7 135.6,453.2 129.4,449.6" fill="none" stroke="#484848" stroke-width="0.75" stroke-linejoin="round"/>
<polygon points="81.2,333.7 96.1,325.4 100.8,323.0 106.2,323.3 119.9,332.5 120.2,334.9 116.9,339.0 107.4,343.8 102.6,344.4 81.8,335.5" fill="#5a5c5c" />
<polygon points="81.2,333.7 96.1,325.4 97.9,330.7 94.3,336.7 90.7,339.3 81.8,335.5" fill="#707272" />
<polygon points="96.1,325.4 100.8,323.0 106.2,323.3 119.9,332.5 114.5,334.3 107.4,330.7 100.2,328.9" fill="#484848" />
<polyline points="81.8,335.2 102.6,344.0 107.4,343.5 116.9,338.7 120.0,334.9" fill="none" stroke="#a4a4a4" stroke-width="1.3" stroke-linejoin="round" />
<ellipse cx="103.2" cy="336.3" rx="6.8" ry="3.6" fill="#8a8a8a"/><ellipse cx="103.2" cy="336.1" rx="5.2" ry="2.6" fill="#f2f2f2"/>
<polygon points="81.2,333.7 96.1,325.4 100.8,323.0 106.2,323.3 119.9,332.5 120.2,334.9 116.9,339.0 107.4,343.8 102.6,344.4 81.8,335.5" fill="none" stroke="#484848" stroke-width="0.75" stroke-linejoin="round"/>
<polygon points="62.7,301.0 75.2,306.9 78.8,309.5 80.0,309.3 90.7,315.8 90.7,320.6 85.4,323.6 77.0,318.8 71.7,317.0 65.1,311.7 63.3,305.7" fill="#3e3e3e" />
<polygon points="62.7,301.0 75.2,306.9 78.8,309.5 77.6,311.1 64.5,304.5" fill="#525252" />
<polygon points="78.8,309.5 80.0,309.3 90.7,315.8 89.8,317.6 78.2,311.3" fill="#4c4c4c" />
<polygon points="323.0,381.8 325.1,374.2 331.6,372.6 337.6,373.7 345.7,369.3 351.1,363.4 354.3,358.0 356.5,358.5 360.3,363.4 361.9,368.3 363.5,372.0 361.9,373.7 336.0,387.7 329.5,386.6" fill="#626464" />
<polygon points="323.0,381.8 325.1,374.2 331.6,372.6 337.6,373.7 336.0,387.7 329.5,386.6" fill="#525252" />
<polygon points="325.1,374.2 331.6,372.6 337.6,373.7 345.7,369.3 351.1,363.4 354.3,358.0 356.5,358.5 357.6,366.6 351.1,372.0 342.4,376.4 337.0,377.4" fill="#7a7c7c" />
<polygon points="351.1,363.4 354.3,358.0 356.5,358.5 360.3,363.4 361.9,368.3 357.6,369.9 353.3,368.3" fill="#4c4c4c" />
<polygon points="328.4,384.5 335.4,385.2 336.0,387.7 329.5,386.6" fill="#9c9c9c" />
<polygon points="323.0,381.8 325.1,374.2 331.6,372.6 337.6,373.7 345.7,369.3 351.1,363.4 354.3,358.0 356.5,358.5 360.3,363.4 361.9,368.3 363.5,372.0 361.9,373.7 336.0,387.7 329.5,386.6" fill="none" stroke="#484848" stroke-width="0.75" stroke-linejoin="round"/>
</g>
<g filter="url(#soft3)">
<g stroke="#1a1a1a" stroke-width="1.2" fill="none">
<path d="M234.2,348.4 L203.6,365.3" stroke-width="1.4" stroke-dasharray="7 2 1.5 2"/>
<path d="M204.3,366.6 L221.8,377 L217.9,380.3" stroke-width="1.1"/>
<path d="M178,410.6 L172.2,407.2 M169.2,430.6 L165.3,428.1"/>
<path d="M169.5,411 L169.5,428.6" stroke-dasharray="11.5 1.2"/>
<path d="M529.2,77 L529.2,82" stroke-dasharray="2 1"/>
<rect x="528" y="82.5" width="2.6" height="15.5" fill="#b4b4b4" stroke="#777" stroke-width="0.5"/>
</g>
<text transform="translate(473.75,25.98) scale(0.2875,0.2500)" font-size="58.4" text-anchor="middle" class="lb">8</text>
<line x1="474.25" y1="28.75" x2="474.25" y2="45" stroke="#1a1a1a" stroke-width="1.4"/>
<text transform="translate(259.5,104.73) scale(0.2875,0.2500)" font-size="58.4" text-anchor="middle" class="lb">9</text>
<line x1="259.5" y1="107.5" x2="259.5" y2="126" stroke="#1a1a1a" stroke-width="1.4"/>
<text transform="translate(368.5,138.83) scale(0.2875,0.2500)" font-size="58.4" text-anchor="middle" class="lb">11</text>
<line x1="369" y1="141.5" x2="369" y2="156" stroke="#1a1a1a" stroke-width="1.4"/>
<text transform="translate(511.7,260.63) scale(0.2875,0.2500)" font-size="58.4" text-anchor="middle" class="lb">7</text>
<line x1="489" y1="255" x2="505" y2="255" stroke="#1a1a1a" stroke-width="1.4"/>
<text transform="translate(629.5,249.73) scale(0.2875,0.2500)" font-size="58.4" text-anchor="middle" class="lb">10</text>
<line x1="629" y1="219" x2="629" y2="237" stroke="#1a1a1a" stroke-width="1.4"/>
<text transform="translate(555,297.73) scale(0.2875,0.2500)" font-size="58.4" text-anchor="middle" class="lb">12</text>
<line x1="554.5" y1="267.5" x2="554.5" y2="285" stroke="#1a1a1a" stroke-width="1.4"/>
<text transform="translate(342.5,315.73) scale(0.2875,0.2500)" font-size="58.4" text-anchor="middle" class="lb">6</text>
<line x1="342.5" y1="287.5" x2="342.5" y2="302.5" stroke="#1a1a1a" stroke-width="1.4"/>
<text transform="translate(249,281.73) scale(0.2875,0.2500)" font-size="58.4" text-anchor="middle" class="lb">5</text>
<line x1="249" y1="284" x2="249" y2="301" stroke="#1a1a1a" stroke-width="1.4"/>
<text transform="translate(342.5,344.73) scale(0.2875,0.2500)" font-size="58.4" text-anchor="middle" class="lb">13</text>
<line x1="342" y1="347.5" x2="342" y2="370.4" stroke="#1a1a1a" stroke-width="1.4"/>
<text transform="translate(79.25,288.48) scale(0.2875,0.2500)" font-size="58.4" text-anchor="middle" class="lb">4</text>
<line x1="79.25" y1="290" x2="79.25" y2="308.5" stroke="#1a1a1a" stroke-width="1.4"/>
<text transform="translate(103.9,301.73) scale(0.2875,0.2500)" font-size="58.4" text-anchor="middle" class="lb">3</text>
<line x1="103.75" y1="303" x2="103.75" y2="322.5" stroke="#1a1a1a" stroke-width="1.4"/>
<text transform="translate(137,325.48) scale(0.2875,0.2500)" font-size="58.4" text-anchor="middle" class="lb">1</text>
<line x1="137.5" y1="328" x2="137.5" y2="346" stroke="#1a1a1a" stroke-width="1.4"/>
<text transform="translate(171.25,452.98) scale(0.2875,0.2500)" font-size="58.4" text-anchor="middle" class="lb">2</text>
<line x1="150" y1="448.25" x2="165" y2="448.25" stroke="#1a1a1a" stroke-width="1.4"/>
<line x1="221" y1="89" x2="207.5" y2="95" stroke="#1a1a1a" stroke-width="1.1"/>
<circle cx="229.05" cy="83.3" r="8.75" fill="#fff" stroke="#1a1a1a" stroke-width="1.3"/>
<text transform="translate(229.05,87.35) scale(0.28,0.25)" font-size="45.2" text-anchor="middle" class="lb">19</text>
<line x1="295" y1="199.6" x2="305" y2="204.7" stroke="#1a1a1a" stroke-width="1.1"/>
<circle cx="287.2" cy="196.2" r="8.75" fill="#fff" stroke="#1a1a1a" stroke-width="1.3"/>
<text transform="translate(287.2,200.25) scale(0.28,0.25)" font-size="45.2" text-anchor="middle" class="lb">16</text>
<circle cx="529.2" cy="66.9" r="8.75" fill="#fff" stroke="#1a1a1a" stroke-width="1.3"/>
<text transform="translate(529.2,70.95) scale(0.28,0.25)" font-size="45.2" text-anchor="middle" class="lb">18</text>
<line x1="635" y1="147.5" x2="649" y2="156" stroke="#1a1a1a" stroke-width="1.1"/>
<circle cx="627.6" cy="143.8" r="8.75" fill="#fff" stroke="#1a1a1a" stroke-width="1.3"/>
<text transform="translate(627.6,147.85) scale(0.28,0.25)" font-size="45.2" text-anchor="middle" class="lb">17</text>
<line x1="86.75" y1="338.75" x2="86.75" y2="345" stroke="#1a1a1a" stroke-width="1.1"/>
<circle cx="87.0" cy="353.8" r="8.75" fill="#fff" stroke="#1a1a1a" stroke-width="1.3"/>
<text transform="translate(87.0,357.85) scale(0.28,0.25)" font-size="45.2" text-anchor="middle" class="lb">15</text>
<circle cx="156.9" cy="423.3" r="8.75" fill="#fff" stroke="#1a1a1a" stroke-width="1.3"/>
<text transform="translate(156.9,427.35) scale(0.28,0.25)" font-size="45.2" text-anchor="middle" class="lb">14</text>
<circle cx="208.8" cy="385.5" r="8.75" fill="#fff" stroke="#1a1a1a" stroke-width="1.3"/>
<text transform="translate(208.8,389.55) scale(0.28,0.25)" font-size="45.2" text-anchor="middle" class="lb">19</text>
<g fill="none" stroke="#707070" stroke-width="1.1">
<path d="M613.5,458 L613.5,294.5 L673,294.5 L673,458"/>
<line x1="613.5" y1="335.5" x2="673" y2="335.5"/><line x1="613.5" y1="376.5" x2="673" y2="376.5" stroke="#5c5c5c"/><line x1="435.5" y1="417.4" x2="673" y2="417.4" stroke="#5c5c5c"/>
<path d="M435.5,417.4 L435.5,458"/>
<line x1="494.6" y1="417.5" x2="494.6" y2="458"/><line x1="553.6" y1="417.5" x2="553.6" y2="458"/>
<line x1="435" y1="458" x2="673.5" y2="458" stroke="#6a6a6a" stroke-width="1.6"/>
</g>
<text transform="translate(625.4,309.46) scale(0.2800,0.2500)" font-size="57.6" text-anchor="middle" class="lb">16</text>
<text transform="translate(625.4,350.36) scale(0.2800,0.2500)" font-size="57.6" text-anchor="middle" class="lb">15</text>
<text transform="translate(625.4,391.26) scale(0.2800,0.2500)" font-size="57.6" text-anchor="middle" class="lb">14</text>
<text transform="translate(447,432.10) scale(0.2700,0.2500)" font-size="59.2" text-anchor="middle" class="lb">19</text>
<text transform="translate(506.4,431.80) scale(0.2700,0.2500)" font-size="59.2" text-anchor="middle" class="lb">18</text>
<text transform="translate(566,431.80) scale(0.2700,0.2500)" font-size="59.2" text-anchor="middle" class="lb">17</text>
</g>
<g filter="url(#soft2)">
<ellipse cx="650.9" cy="316.9" rx="19" ry="11.2" fill="#8e9092"/>
<ellipse cx="651.1" cy="316.3" rx="18.6" ry="10.6" fill="#a6a8aa"/>
<ellipse cx="651.5" cy="315.8" rx="13" ry="7" fill="#b2b4b6"/>
<ellipse cx="650.5" cy="315.2" rx="5.8" ry="3.3" fill="#bcbec0"/>
<ellipse cx="650.5" cy="315.5" rx="4.8" ry="2.6" fill="#66686a"/>
<ellipse cx="651.6" cy="358.2" rx="18.8" ry="11.9" fill="#7e8082"/>
<ellipse cx="651.8" cy="358" rx="17.6" ry="10.7" fill="#9c9ea0"/>
<g stroke="#f4f4f4" stroke-width="2.3" stroke-linecap="round">
<line x1="651" y1="358" x2="642.1" y2="353.2"/>
<line x1="651" y1="358" x2="654.5" y2="351.4"/>
<line x1="651" y1="358" x2="665.1" y2="357.2"/>
<line x1="651" y1="358" x2="661.1" y2="365.1"/>
<line x1="651" y1="358" x2="648.3" y2="367.8"/>
<line x1="651" y1="358" x2="637.7" y2="361.6"/>
</g>
<ellipse cx="651" cy="358" rx="3.2" ry="2.2" fill="#f4f4f4"/>
<polygon points="648.3,396 657.1,396 657.1,412.5 653.2,418 649.2,412.5" fill="#3a3a3a" />
<g stroke="#777" stroke-width="0.8">
<line x1="648.3" y1="401" x2="657.1" y2="400"/>
<line x1="648.3" y1="404" x2="657.1" y2="403"/>
<line x1="648.3" y1="407" x2="657.1" y2="406"/>
<line x1="648.3" y1="410" x2="657.1" y2="409"/>
<line x1="648.3" y1="413" x2="657.1" y2="412"/>
</g>
<ellipse cx="652.7" cy="389" rx="14.6" ry="8.2" fill="#c8cacc"/>
<ellipse cx="652.7" cy="388.3" rx="14.6" ry="7.8" fill="#a8aaac"/>
<ellipse cx="471.7" cy="442.8" rx="20.5" ry="11.8" fill="#c2c4c6"/>
<ellipse cx="471.7" cy="441.8" rx="20.3" ry="10.8" fill="#a0a2a4"/>
<ellipse cx="471" cy="440.8" rx="14" ry="6.6" fill="#aeb0b2"/>
<polygon points="462.5,433 466.5,428.3 474.5,428 477.7,431.5 477.7,441 474,445.8 466,445.8 462.5,442" fill="#8c8e90" />
<polygon points="466.2,436 474.2,436 474,445.8 466,445.8" fill="#a4a6a8" />
<polygon points="462.5,433 466.5,428.3 474.5,428 477.7,431.5 474.2,436 466.2,436" fill="#b0b2b4" />
<ellipse cx="470.4" cy="432.3" rx="3.7" ry="2.3" fill="#585a5c"/>
<ellipse cx="533.1" cy="439.4" rx="18.3" ry="10.6" fill="#c4c6c8"/>
<ellipse cx="533.1" cy="438.6" rx="18.3" ry="10" fill="#a8aaac"/>
<path d="M524.9,438.9 L537.2,432.8 M528.4,432.8 L533.7,436.8" stroke="#4a4a4a" stroke-width="1.5" fill="none"/>
<rect x="586.6" y="427" width="8" height="13" fill="#8a8c8e"/>
<ellipse cx="591" cy="424.3" rx="9.7" ry="5.7" fill="#a8a8aa"/>
<ellipse cx="591" cy="440.2" rx="14.1" ry="8.6" fill="#8a8c8e"/>
<ellipse cx="591" cy="439.4" rx="13.8" ry="7.8" fill="#b4b6b8"/>
<ellipse cx="590.6" cy="438.8" rx="8.6" ry="4.4" fill="#6e7072"/>
<rect x="587" y="430" width="7.2" height="10.5" fill="#8e9092"/>
<polygon points="586.6,448 596.3,448 595,457.5 588,457.5" fill="#77797b" />
</g>
<polygon points="618.4,431.1 626.2,435.5 652.5,420.4 669,430.6 642.7,444.8 650.5,449.1 618.4,449.1" fill="#fff" stroke="#111" stroke-width="1.2" stroke-linejoin="miter"/>
<polygon points="617.9,449 651.1,449 651.1,454.6 617.9,454.6" fill="#111" />
<polygon points="642.7,444.8 669,430.6 669.5,434.8 648,447.6" fill="#111" />
</svg></body></html>
